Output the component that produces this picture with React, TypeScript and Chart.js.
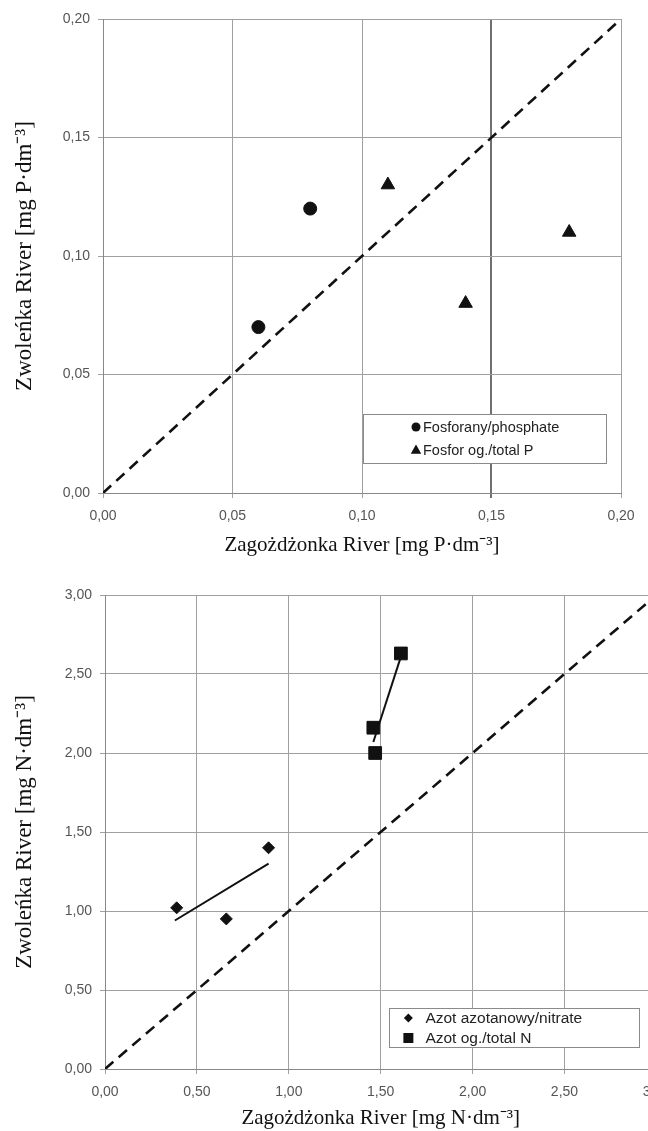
import React, { useEffect, useRef } from "react";
import { Chart, registerables } from "chart.js";

Chart.register(...registerables);

// ---------- data ----------
const pTicks = [0, 0.05, 0.1, 0.15, 0.2];
const nTicks = [0, 0.5, 1, 1.5, 2, 2.5, 3];

const phosphateX = [0.06, 0.08];
const phosphateY = [0.07, 0.12];
const totalPX = [0.11, 0.14, 0.18];
const totalPY = [0.13, 0.08, 0.11];
const pOneToOneX = [0, 0.2];
const pOneToOneY = [0, 0.2];

const nitrateX = [0.39, 0.66, 0.89];
const nitrateY = [1.02, 0.95, 1.4];
const totalNX = [1.46, 1.47, 1.61];
const totalNY = [2.16, 2.0, 2.63];
const nitrateTrendX = [0.38, 0.89];
const nitrateTrendY = [0.94, 1.3];
const totalNTrendX = [1.46, 1.61];
const totalNTrendY = [2.07, 2.61];
const nOneToOneX = [0, 3];
const nOneToOneY = [0, 3];

const pLegendLabels = ["Fosforany/phosphate", "Fosfor og./total P"];
const nLegendLabels = ["Azot azotanowy/nitrate", "Azot og./total N"];

const pXTitle = "Zagożdżonka River [mg P·dm⁻³]";
const pYTitle = "Zwoleńka River [mg P·dm⁻³]";
const nXTitle = "Zagożdżonka River [mg N·dm⁻³]";
const nYTitle = "Zwoleńka River [mg N·dm⁻³]";

// ---------- helpers ----------
const zip = (xs: number[], ys: number[]) => xs.map((x, i) => ({ x, y: ys[i] }));
const fmt = (v: any) => Number(v).toFixed(2).replace(".", ",");
const SANS = '"Liberation Sans", Arial, sans-serif';
const SERIF = '"Liberation Serif", "Times New Roman", serif';
const INK = "#111";

function drawSymbol(ctx: CanvasRenderingContext2D, kind: string, x: number, y: number, s: number) {
  ctx.beginPath();
  if (kind === "circle") {
    ctx.arc(x, y, s, 0, Math.PI * 2);
  } else if (kind === "triangle") {
    ctx.moveTo(x, y - s);
    ctx.lineTo(x + s * 0.95, y + s * 0.7);
    ctx.lineTo(x - s * 0.95, y + s * 0.7);
    ctx.closePath();
  } else if (kind === "diamond") {
    ctx.moveTo(x, y - s);
    ctx.lineTo(x + s, y);
    ctx.lineTo(x, y + s);
    ctx.lineTo(x - s, y);
    ctx.closePath();
  } else {
    ctx.rect(x - s, y - s, 2 * s, 2 * s);
  }
  ctx.fill();
}

function makeLegend(cfg: any) {
  return {
    id: "boxLegend",
    afterDatasetsDraw(chart: any) {
      const { ctx, chartArea } = chart;
      const x = chartArea.right - cfg.right - cfg.width;
      const y = chartArea.bottom - cfg.bottom - cfg.height;
      ctx.save();
      ctx.fillStyle = "#fff";
      ctx.fillRect(x, y, cfg.width, cfg.height);
      ctx.strokeStyle = "#8a8a8a";
      ctx.lineWidth = 1;
      ctx.strokeRect(Math.round(x) + 0.5, Math.round(y) + 0.5, cfg.width, cfg.height);
      cfg.labels.forEach((label: string, i: number) => {
        const cy = y + cfg.rows[i];
        ctx.fillStyle = INK;
        drawSymbol(ctx, cfg.symbols[i], x + cfg.symX, cy, cfg.symSize[i]);
        ctx.fillStyle = "#222";
        ctx.font = `${cfg.fontSize}px ${SANS}`;
        ctx.textBaseline = "middle";
        ctx.textAlign = "left";
        ctx.fillText(label, x + cfg.textX, cy + 1);
      });
      ctx.restore();
    },
  };
}

function axis(opts: any) {
  return {
    type: "linear",
    min: opts.min,
    max: opts.max,
    afterBuildTicks: (a: any) => {
      a.ticks = opts.ticks.map((v: number) => ({ value: v }));
    },
    afterFit: opts.afterFit,
    ticks: {
      callback: (v: any) => fmt(v),
      font: { family: SANS, size: 14 },
      color: "#555",
      padding: opts.tickPadding,
      maxRotation: 0,
      autoSkip: false,
    },
    grid: {
      color: opts.gridColor || "#a0a0a0",
      lineWidth: opts.gridWidth || 1,
      tickLength: 5,
      drawTicks: true,
    },
    border: { color: "#888", width: 1 },
    title: {
      display: true,
      text: opts.title,
      font: { family: SERIF, size: opts.titleSize },
      color: INK,
      padding: opts.titlePadding,
    },
  };
}

const lineDs = (label: string, data: any[], dashed: boolean) => ({
  label,
  data,
  showLine: true,
  borderColor: INK,
  backgroundColor: INK,
  borderWidth: dashed ? 2.6 : 2,
  borderDash: dashed ? [11, 7] : [],
  pointRadius: 0,
  fill: false,
  tension: 0,
});

const pointDs = (label: string, data: any[], style: string, radius: number) => ({
  label,
  data,
  pointStyle: style,
  pointRadius: radius,
  backgroundColor: INK,
  borderColor: INK,
  borderWidth: 1,
  showLine: false,
});

export default function App() {
  const topRef = useRef<HTMLCanvasElement>(null);
  const botRef = useRef<HTMLCanvasElement>(null);

  useEffect(() => {
    const is015 = (c: any) => c.tick && Math.abs(c.tick.value - 0.15) < 1e-9;
    const top = new Chart(topRef.current as HTMLCanvasElement, {
      type: "scatter",
      data: {
        datasets: [
          pointDs(pLegendLabels[0], zip(phosphateX, phosphateY), "circle", 6.5),
          pointDs(pLegendLabels[1], zip(totalPX, totalPY), "triangle", 7.8),
          lineDs("1:1", zip(pOneToOneX, pOneToOneY), true),
        ] as any,
      },
      options: {
        responsive: false,
        animation: false,
        events: [],
        layout: { padding: { left: 0, right: 27, top: 19, bottom: 0 } },
        plugins: { legend: { display: false }, tooltip: { enabled: false } },
        scales: {
          x: axis({
            min: 0, max: 0.2, ticks: pTicks, title: pXTitle, tickPadding: 10, titleSize: 21,
            afterFit: (s: any) => { s.height = 67; },
            titlePadding: { top: 0, bottom: 2 },
            gridColor: (c: any) => (is015(c) ? "#707070" : "#a0a0a0"),
            gridWidth: (c: any) => (is015(c) ? 2 : 1),
          }),
          y: axis({
            min: 0, max: 0.2, ticks: pTicks, title: pYTitle, tickPadding: 8, titleSize: 23,
            afterFit: (s: any) => { s.width = 103; },
            titlePadding: { top: 11, bottom: 0 },
          }),
        } as any,
      },
      plugins: [
        makeLegend({
          labels: pLegendLabels, symbols: ["circle", "triangle"], symSize: [4.5, 5.5],
          right: 15, bottom: 30, width: 243, height: 49,
          rows: [13, 36], symX: 53, textX: 60, fontSize: 14.5,
        }),
      ],
    } as any);

    const bot = new Chart(botRef.current as HTMLCanvasElement, {
      type: "scatter",
      data: {
        datasets: [
          pointDs(nLegendLabels[0], zip(nitrateX, nitrateY), "rectRot", 6),
          pointDs(nLegendLabels[1], zip(totalNX, totalNY), "rect", 9),
          lineDs("trend nitrate", zip(nitrateTrendX, nitrateTrendY), false),
          lineDs("trend total N", zip(totalNTrendX, totalNTrendY), false),
          lineDs("1:1", zip(nOneToOneX, nOneToOneY), true),
        ] as any,
      },
      options: {
        responsive: false,
        animation: false,
        events: [],
        layout: { padding: { left: 0, right: 23, top: 35, bottom: 0 } },
        plugins: { legend: { display: false }, tooltip: { enabled: false } },
        scales: {
          x: axis({
            min: 0, max: 3, ticks: nTicks, title: nXTitle, tickPadding: 10, titleSize: 21,
            afterFit: (s: any) => { s.height = 62; },
            titlePadding: { top: 0, bottom: 0 },
          }),
          y: axis({
            min: 0, max: 3, ticks: nTicks, title: nYTitle, tickPadding: 8, titleSize: 23,
            afterFit: (s: any) => { s.width = 105; },
            titlePadding: { top: 11, bottom: 0 },
          }),
        } as any,
      },
      plugins: [
        makeLegend({
          labels: nLegendLabels, symbols: ["diamond", "square"], symSize: [4.5, 5],
          right: 17, bottom: 22, width: 250, height: 39,
          rows: [10, 30], symX: 19, textX: 36, fontSize: 15.5,
        }),
      ],
    } as any);

    return () => {
      top.destroy();
      bot.destroy();
    };
  }, []);

  return (
    <div
      style={{
        position: "fixed",
        left: 0,
        top: 0,
        width: 648,
        height: 1131,
        overflow: "hidden",
        background: "#fff",
      }}
    >
      <canvas ref={topRef} width={648} height={560} style={{ position: "absolute", left: 0, top: 0 }} />
      <canvas ref={botRef} width={680} height={571} style={{ position: "absolute", left: 0, top: 560 }} />
    </div>
  );
}
